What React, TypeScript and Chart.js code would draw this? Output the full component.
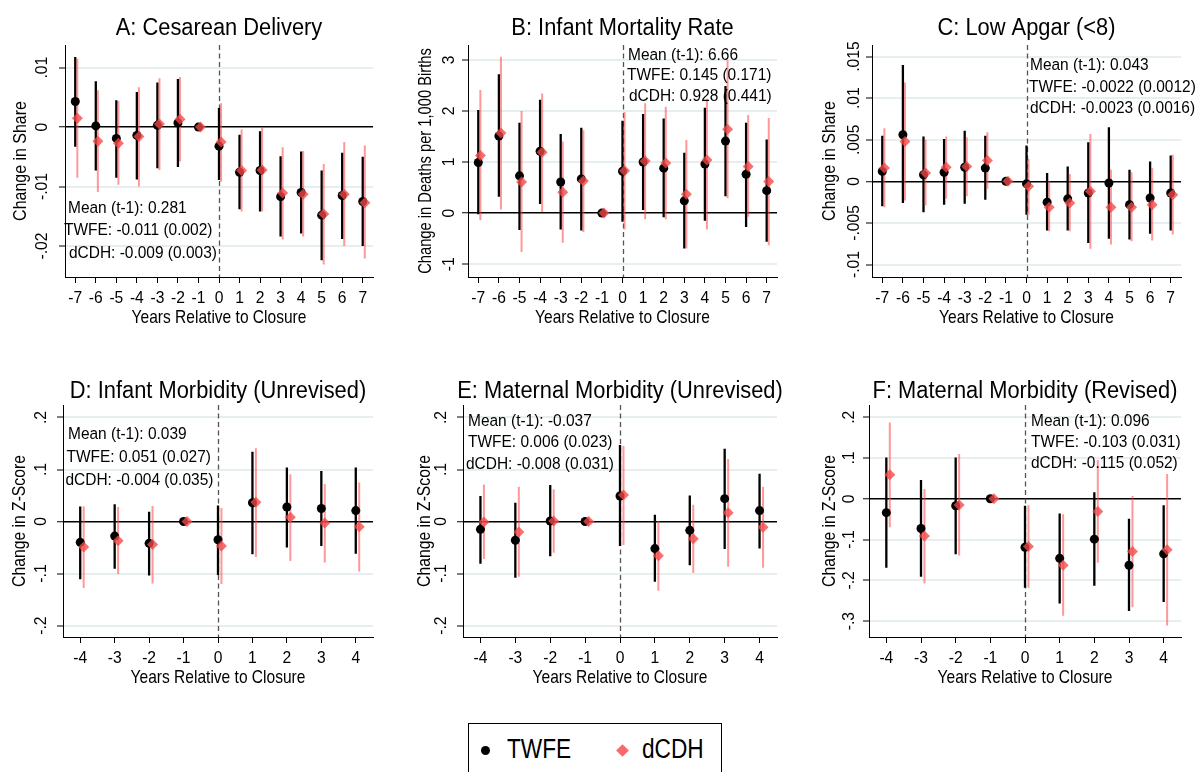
import React, { useEffect, useRef } from "react";
import { Chart, registerables } from "chart.js";

Chart.register(...registerables);

const FONT = "'Liberation Sans', Arial, Helvetica, sans-serif";

// ---------- categories ----------
const yearsLong = [-7, -6, -5, -4, -3, -2, -1, 0, 1, 2, 3, 4, 5, 6, 7];
const yearsShort = [-4, -3, -2, -1, 0, 1, 2, 3, 4];
const xAxisTitle = "Years Relative to Closure";
const legendLabels = ["TWFE", "dCDH"];

// ---------- Panel A ----------
const A_title = "A: Cesarean Delivery";
const A_yTitle = "Change in Share";
const A_yTicks = [0.01, 0, -0.01, -0.02];
const A_yTickLabels = [".01", "0", "-.01", "-.02"];
const A_twfe = [0.0043, 0.0002, -0.0019, -0.0014, 0.0003, 0.0007, 0, -0.0032, -0.0076, -0.0073, -0.0117, -0.011, -0.0148, -0.0115, -0.0125];
const A_twfeLo = [-0.0033, -0.0073, -0.0085, -0.0088, -0.0069, -0.0067, null, -0.0089, -0.0138, -0.0142, -0.0184, -0.0179, -0.0224, -0.0188, -0.02];
const A_twfeHi = [0.0118, 0.0077, 0.0045, 0.0059, 0.0075, 0.0081, null, 0.0032, -0.0013, -0.0007, -0.0049, -0.0041, -0.0073, -0.0043, -0.005];
const A_dcdh = [0.0015, -0.0024, -0.0027, -0.0016, 0.0005, 0.0013, 0, -0.0025, -0.0073, -0.0072, -0.0111, -0.0113, -0.0146, -0.0113, -0.0127];
const A_dcdhLo = [-0.0085, -0.0109, -0.0097, -0.01, -0.0072, -0.0058, null, -0.0092, -0.0142, -0.0142, -0.0189, -0.0184, -0.0231, -0.02, -0.0221];
const A_dcdhHi = [0.0115, 0.0062, 0.0044, 0.0067, 0.0082, 0.0084, null, 0.004, -0.0004, 0.0, -0.0034, -0.004, -0.0062, -0.0025, -0.0031];
const A_notes = ["Mean (t-1): 0.281", "TWFE: -0.011 (0.002)", "dCDH: -0.009 (0.003)"];

// ---------- Panel B ----------
const B_title = "B: Infant Mortality Rate";
const B_yTitle = "Change in Deaths per 1,000 Births";
const B_yTicks = [3, 2, 1, 0, -1];
const B_yTickLabels = ["3", "2", "1", "0", "-1"];
const B_twfe = [0.99, 1.51, 0.73, 1.21, 0.61, 0.67, 0, 0.82, 1.0, 0.88, 0.24, 0.96, 1.41, 0.76, 0.44];
const B_twfeLo = [-0.02, 0.32, -0.33, 0.18, -0.32, -0.34, null, -0.17, 0.06, -0.08, -0.69, -0.15, 0.33, -0.27, -0.56];
const B_twfeHi = [2.02, 2.72, 1.77, 2.22, 1.55, 1.67, null, 1.81, 1.94, 1.85, 1.18, 2.06, 2.49, 1.77, 1.44];
const B_dcdh = [1.13, 1.57, 0.61, 1.19, 0.41, 0.63, 0, 0.83, 1.02, 0.98, 0.37, 1.04, 1.64, 0.91, 0.62];
const B_dcdhLo = [-0.14, 0.07, -0.76, 0.02, -0.58, -0.37, null, -0.32, -0.12, -0.12, -0.69, -0.32, 0.29, -0.07, -0.63];
const B_dcdhHi = [2.41, 3.06, 2.0, 2.34, 1.4, 1.62, null, 1.98, 2.15, 2.08, 1.43, 2.24, 2.99, 1.92, 1.86];
const B_notes = ["Mean (t-1): 6.66", "TWFE: 0.145 (0.171)", "dCDH: 0.928 (0.441)"];

// ---------- Panel C ----------
const C_title = "C: Low Apgar (<8)";
const C_yTitle = "Change in Share";
const C_yTicks = [0.015, 0.01, 0.005, 0, -0.005, -0.01];
const C_yTickLabels = [".015", ".01", ".005", "0", "-.005", "-.01"];
const C_twfe = [0.0012, 0.0056, 0.0008, 0.0011, 0.0017, 0.0016, 0, -0.0003, -0.0025, -0.0021, -0.0014, -0.0002, -0.0028, -0.002, -0.0014];
const C_twfeLo = [-0.003, -0.0026, -0.0037, -0.0028, -0.0027, -0.0022, null, -0.004, -0.0059, -0.0059, -0.0074, -0.0069, -0.007, -0.0063, -0.0059];
const C_twfeHi = [0.0055, 0.014, 0.0054, 0.0051, 0.0061, 0.0055, null, 0.0043, 0.001, 0.0018, 0.0047, 0.0065, 0.0014, 0.0024, 0.0031];
const C_dcdh = [0.0016, 0.0048, 0.001, 0.0017, 0.0018, 0.0025, 0, -0.0006, -0.0031, -0.0026, -0.0012, -0.0031, -0.0031, -0.0028, -0.0016];
const C_dcdhLo = [-0.0031, -0.0023, -0.0029, -0.0021, -0.0018, -0.0009, null, -0.004, -0.006, -0.006, -0.0081, -0.0076, -0.0072, -0.0071, -0.0064];
const C_dcdhHi = [0.0064, 0.0119, 0.005, 0.0054, 0.0053, 0.0059, null, 0.0027, 0.0, 0.0009, 0.0057, 0.0014, 0.0011, 0.0016, 0.0032];
const C_notes = ["Mean (t-1): 0.043", "TWFE: -0.0022 (0.0012)", "dCDH: -0.0023 (0.0016)"];

// ---------- Panel D ----------
const D_title = "D: Infant Morbidity (Unrevised)";
const D_yTitle = "Change in Z-Score";
const D_yTicks = [0.2, 0.1, 0, -0.1, -0.2];
const D_yTickLabels = [".2", ".1", "0", "-.1", "-.2"];
const D_twfe = [-0.04, -0.028, -0.042, 0, -0.035, 0.036, 0.028, 0.025, 0.021];
const D_twfeLo = [-0.111, -0.091, -0.104, null, -0.103, -0.063, -0.05, -0.047, -0.062];
const D_twfeHi = [0.029, 0.033, 0.019, null, 0.031, 0.134, 0.104, 0.097, 0.104];
const D_dcdh = [-0.049, -0.037, -0.044, 0, -0.047, 0.037, 0.008, -0.003, -0.01];
const D_dcdhLo = [-0.128, -0.101, -0.119, null, -0.12, -0.068, -0.076, -0.079, -0.096];
const D_dcdhHi = [0.029, 0.028, 0.03, null, 0.026, 0.141, 0.091, 0.072, 0.075];
const D_notes = ["Mean (t-1): 0.039", "TWFE: 0.051 (0.027)", "dCDH: -0.004 (0.035)"];

// ---------- Panel E ----------
const E_title = "E: Maternal Morbidity (Unrevised)";
const E_yTitle = "Change in Z-Score";
const E_yTicks = [0.2, 0.1, 0, -0.1, -0.2];
const E_yTickLabels = [".2", ".1", "0", "-.1", "-.2"];
const E_twfe = [-0.015, -0.036, 0.001, 0, 0.049, -0.052, -0.017, 0.044, 0.021];
const E_twfeLo = [-0.081, -0.108, -0.067, null, -0.047, -0.116, -0.084, -0.053, -0.052];
const E_twfeHi = [0.049, 0.036, 0.07, null, 0.147, 0.013, 0.05, 0.14, 0.092];
const E_dcdh = [-0.001, -0.02, 0.001, 0, 0.051, -0.066, -0.033, 0.017, -0.011];
const E_dcdhLo = [-0.072, -0.106, -0.06, null, -0.045, -0.133, -0.099, -0.087, -0.089];
const E_dcdhHi = [0.071, 0.067, 0.062, null, 0.145, 0.001, 0.032, 0.12, 0.067];
const E_notes = ["Mean (t-1): -0.037", "TWFE: 0.006 (0.023)", "dCDH: -0.008 (0.031)"];

// ---------- Panel F ----------
const F_title = "F: Maternal Morbidity (Revised)";
const F_yTitle = "Change in Z-Score";
const F_yTicks = [0.2, 0.1, 0, -0.1, -0.2, -0.3];
const F_yTickLabels = [".2", ".1", "0", "-.1", "-.2", "-.3"];
const F_twfe = [-0.034, -0.073, -0.017, 0, -0.119, -0.146, -0.099, -0.163, -0.135];
const F_twfeLo = [-0.169, -0.191, -0.136, null, -0.218, -0.257, -0.213, -0.275, -0.253];
const F_twfeHi = [0.101, 0.046, 0.101, null, -0.017, -0.036, 0.016, -0.049, -0.016];
const F_dcdh = [0.059, -0.091, -0.015, 0, -0.117, -0.163, -0.031, -0.129, -0.125];
const F_dcdhLo = [-0.07, -0.208, -0.139, null, -0.218, -0.287, -0.157, -0.266, -0.311];
const F_dcdhHi = [0.187, 0.024, 0.11, null, -0.016, -0.038, 0.095, 0.007, 0.061];
const F_notes = ["Mean (t-1): 0.096", "TWFE: -0.103 (0.031)", "dCDH: -0.115 (0.052)"];

type Area = { left: number; top: number; right: number; bottom: number };
type PanelCfg = {
  title: string;
  yTitle: string;
  years: number[];
  xMax: number;
  yMin: number;
  yMax: number;
  yTicks: number[];
  yTickLabels: string[];
  twfe: number[];
  twfeLo: (number | null)[];
  twfeHi: (number | null)[];
  dcdh: number[];
  dcdhLo: (number | null)[];
  dcdhHi: (number | null)[];
  notes: string[];
  area: Area;
  noteDx: number[];
  noteDy: number[];
  titleGap: number;
  yLabelOff: number;
  yTitleOff: number;
  yTitleSize: number;
};

const panels: PanelCfg[] = [
  {
    title: A_title, yTitle: A_yTitle, years: yearsLong, xMax: 7.5, yMin: -0.0252, yMax: 0.0138,
    yTicks: A_yTicks, yTickLabels: A_yTickLabels,
    twfe: A_twfe, twfeLo: A_twfeLo, twfeHi: A_twfeHi, dcdh: A_dcdh, dcdhLo: A_dcdhLo, dcdhHi: A_dcdhHi,
    notes: A_notes, area: { left: 65, top: 45, right: 373, bottom: 277 },
    noteDx: [3, -1, 4], noteDy: [161, 183, 206], titleGap: 10, yLabelOff: 24, yTitleOff: 46, yTitleSize: 19,
  },
  {
    title: B_title, yTitle: B_yTitle, years: yearsLong, xMax: 7.5, yMin: -1.25, yMax: 3.29,
    yTicks: B_yTicks, yTickLabels: B_yTickLabels,
    twfe: B_twfe, twfeLo: B_twfeLo, twfeHi: B_twfeHi, dcdh: B_dcdh, dcdhLo: B_dcdhLo, dcdhHi: B_dcdhHi,
    notes: B_notes, area: { left: 468, top: 45, right: 777, bottom: 277 },
    noteDx: [160, 159, 161], noteDy: [8, 28, 48.5], titleGap: 10, yLabelOff: 20, yTitleOff: 43, yTitleSize: 17.5,
  },
  {
    title: C_title, yTitle: C_yTitle, years: yearsLong, xMax: 7.5, yMin: -0.0115, yMax: 0.0164,
    yTicks: C_yTicks, yTickLabels: C_yTickLabels,
    twfe: C_twfe, twfeLo: C_twfeLo, twfeHi: C_twfeHi, dcdh: C_dcdh, dcdhLo: C_dcdhLo, dcdhHi: C_dcdhHi,
    notes: C_notes, area: { left: 872, top: 45, right: 1181, bottom: 277 },
    noteDx: [158, 157, 158], noteDy: [18, 40, 61], titleGap: 10, yLabelOff: 19, yTitleOff: 44, yTitleSize: 19,
  },
  {
    title: D_title, yTitle: D_yTitle, years: yearsShort, xMax: 4.5, yMin: -0.222, yMax: 0.224,
    yTicks: D_yTicks, yTickLabels: D_yTickLabels,
    twfe: D_twfe, twfeLo: D_twfeLo, twfeHi: D_twfeHi, dcdh: D_dcdh, dcdhLo: D_dcdhLo, dcdhHi: D_dcdhHi,
    notes: D_notes, area: { left: 63, top: 405, right: 373, bottom: 637 },
    noteDx: [5, 3.5, 2.5], noteDy: [27, 50, 73], titleGap: 7, yLabelOff: 23, yTitleOff: 45, yTitleSize: 18.7,
  },
  {
    title: E_title, yTitle: E_yTitle, years: yearsShort, xMax: 4.5, yMin: -0.222, yMax: 0.224,
    yTicks: E_yTicks, yTickLabels: E_yTickLabels,
    twfe: E_twfe, twfeLo: E_twfeLo, twfeHi: E_twfeHi, dcdh: E_dcdh, dcdhLo: E_dcdhLo, dcdhHi: E_dcdhHi,
    notes: E_notes, area: { left: 463, top: 405, right: 777, bottom: 637 },
    noteDx: [5, 5, 3], noteDy: [14, 35, 57], titleGap: 7, yLabelOff: 23, yTitleOff: 40, yTitleSize: 18.7,
  },
  {
    title: F_title, yTitle: F_yTitle, years: yearsShort, xMax: 4.5, yMin: -0.339, yMax: 0.23,
    yTicks: F_yTicks, yTickLabels: F_yTickLabels,
    twfe: F_twfe, twfeLo: F_twfeLo, twfeHi: F_twfeHi, dcdh: F_dcdh, dcdhLo: F_dcdhLo, dcdhHi: F_dcdhHi,
    notes: F_notes, area: { left: 869, top: 405, right: 1181, bottom: 637 },
    noteDx: [162, 162, 162], noteDy: [14, 35, 56], titleGap: 7, yLabelOff: 21, yTitleOff: 41, yTitleSize: 18.7,
  },
];

const DCDH_OFFSET = 0.1;
const PAD_L = 64;
const PAD_T = 45;
const PAD_R = 14;
const PAD_B = 55;

const RED_POINT = "rgba(244, 72, 72, 0.78)";
const RED_LINE = "rgba(255, 70, 70, 0.55)";

function pts(ys: number[], years: number[], off: number) {
  return years.map((x, i) => ({ x: x + off, y: ys[i] }));
}

function segs(lo: (number | null)[], hi: (number | null)[], years: number[], off: number) {
  const out: { x: number; y: number | null }[] = [];
  years.forEach((x, i) => {
    if (lo[i] == null || hi[i] == null) return;
    out.push({ x: x + off, y: lo[i] as number });
    out.push({ x: x + off, y: hi[i] as number });
    out.push({ x: x + off, y: null });
  });
  return out;
}

// draw text whose cap-height centre sits at cy (horizontal) or whose cap centre sits at cx (rotated)
function drawText(
  ctx: CanvasRenderingContext2D,
  text: string,
  x: number,
  y: number,
  size: number,
  k: number,
  align: CanvasTextAlign,
  rotated = false
) {
  ctx.save();
  ctx.font = `${size}px ${FONT}`;
  ctx.fillStyle = "#000";
  ctx.textAlign = align;
  ctx.textBaseline = "alphabetic";
  if (rotated) {
    ctx.translate(x + 0.358 * size, y);
    ctx.rotate(-Math.PI / 2);
  } else {
    ctx.translate(x, y + 0.358 * size);
  }
  ctx.scale(k, 1);
  ctx.fillText(text, 0, 0);
  ctx.restore();
}

function PanelChart({ cfg }: { cfg: PanelCfg }) {
  const ref = useRef<HTMLCanvasElement | null>(null);
  const w = cfg.area.right - cfg.area.left + PAD_L + PAD_R;
  const h = cfg.area.bottom - cfg.area.top + PAD_T + PAD_B;

  useEffect(() => {
    if (!ref.current) return;
    const textPlugin = {
      id: "panelText",
      beforeDatasetsDraw(chart: any) {
        const { ctx, chartArea } = chart;
        const xs = chart.scales.x;
        const px = Math.round(xs.getPixelForValue(0)) + 0.5;
        ctx.save();
        ctx.strokeStyle = "#555";
        ctx.lineWidth = 1.3;
        ctx.setLineDash([5, 3.5]);
        ctx.beginPath();
        ctx.moveTo(px, chartArea.top);
        ctx.lineTo(px, chartArea.bottom);
        ctx.stroke();
        ctx.restore();
      },
      afterDraw(chart: any) {
        const { ctx, chartArea } = chart;
        const ys = chart.scales.y;
        const xs = chart.scales.x;
        const cxArea = (chartArea.left + chartArea.right) / 2;
        // title
        drawText(ctx, cfg.title, cxArea, chartArea.top - cfg.titleGap - 0.358 * 23.5, 23.5, 0.93, "center");
        // x tick labels
        cfg.years.forEach((v) => {
          drawText(ctx, String(v), xs.getPixelForValue(v), chartArea.bottom + 19.5, 17, 0.92, "center");
        });
        // x title
        drawText(ctx, xAxisTitle, cxArea, chartArea.bottom + 39.5, 18.5, 0.84, "center");
        // y tick labels
        cfg.yTicks.forEach((v, i) => {
          drawText(ctx, cfg.yTickLabels[i], chartArea.left - cfg.yLabelOff, ys.getPixelForValue(v), 17, 0.92, "center", true);
        });
        // y title
        drawText(ctx, cfg.yTitle, chartArea.left - cfg.yTitleOff, (chartArea.top + chartArea.bottom) / 2, cfg.yTitleSize, 0.84, "center", true);
        // notes
        cfg.notes.forEach((t, i) => {
          drawText(ctx, t, chartArea.left + cfg.noteDx[i], chartArea.top + cfg.noteDy[i] + 1, 17.2, 0.9, "left");
        });
      },
    };

    const chart = new Chart(ref.current, {
      type: "line",
      data: {
        datasets: [
          {
            label: legendLabels[1],
            data: pts(cfg.dcdh, cfg.years, DCDH_OFFSET),
            showLine: false,
            pointStyle: "rectRot",
            pointRadius: 5.5,
            pointBackgroundColor: RED_POINT,
            pointBorderColor: RED_POINT,
            pointBorderWidth: 0,
            order: 0,
          },
          {
            label: legendLabels[0],
            data: pts(cfg.twfe, cfg.years, 0),
            showLine: false,
            pointStyle: "circle",
            pointRadius: 4.5,
            pointBackgroundColor: "#000",
            pointBorderColor: "#000",
            pointBorderWidth: 0,
            order: 1,
          },
          {
            label: "dCDH CI",
            data: segs(cfg.dcdhLo, cfg.dcdhHi, cfg.years, DCDH_OFFSET),
            borderColor: RED_LINE,
            borderWidth: 2,
            pointRadius: 0,
            spanGaps: false,
            order: 2,
          },
          {
            label: "TWFE CI",
            data: segs(cfg.twfeLo, cfg.twfeHi, cfg.years, 0),
            borderColor: "#000",
            borderWidth: 2.3,
            pointRadius: 0,
            spanGaps: false,
            order: 3,
          },
        ] as any,
      },
      options: {
        responsive: false,
        animation: false,
        devicePixelRatio: 1,
        events: [],
        layout: { padding: { left: 0, top: PAD_T, right: PAD_R, bottom: 0 } },
        scales: {
          x: {
            type: "linear",
            min: -cfg.xMax,
            max: cfg.xMax,
            afterBuildTicks: (s: any) => {
              s.ticks = cfg.years.map((v) => ({ value: v }));
            },
            afterFit: (s: any) => {
              s.height = PAD_B;
            },
            grid: { drawOnChartArea: false, drawTicks: true, tickLength: 6, tickColor: "#000", tickWidth: 1 },
            border: { display: true, color: "#000", width: 1 },
            ticks: { display: false },
            title: { display: false },
          },
          y: {
            type: "linear",
            min: cfg.yMin,
            max: cfg.yMax,
            afterBuildTicks: (s: any) => {
              s.ticks = cfg.yTicks.map((v) => ({ value: v }));
            },
            afterFit: (s: any) => {
              s.width = PAD_L;
            },
            grid: {
              color: (c: any) => (c.tick && Math.abs(c.tick.value) < 1e-12 ? "#000" : "#e7eef0"),
              lineWidth: (c: any) => (c.tick && Math.abs(c.tick.value) < 1e-12 ? 1.5 : 2),
              drawTicks: true,
              tickLength: 6,
              tickColor: "#000",
              tickWidth: 1,
            },
            border: { display: true, color: "#000", width: 1 },
            ticks: { display: false },
          },
        },
        plugins: {
          legend: { display: false },
          tooltip: { enabled: false },
          title: { display: false },
        },
      } as any,
      plugins: [textPlugin],
    });
    return () => chart.destroy();
  }, [cfg]);

  return (
    <canvas
      ref={ref}
      width={w}
      height={h}
      style={{
        position: "absolute",
        left: cfg.area.left - PAD_L,
        top: cfg.area.top - PAD_T,
        width: w,
        height: h,
      }}
    />
  );
}

function Legend() {
  const textStyle: React.CSSProperties = {
    position: "absolute",
    top: 736,
    fontFamily: FONT,
    fontSize: 27,
    lineHeight: "27px",
    color: "#000",
    transform: "scaleX(0.84)",
    transformOrigin: "left center",
    whiteSpace: "nowrap",
  };
  return (
    <>
      <div
        style={{
          position: "absolute",
          left: 468,
          top: 723,
          width: 254,
          height: 70,
          border: "1px solid #000",
          boxSizing: "border-box",
          background: "#fff",
        }}
      />
      <div
        style={{
          position: "absolute",
          left: 480.5,
          top: 745.5,
          width: 9,
          height: 9,
          borderRadius: "50%",
          background: "#000",
        }}
      />
      <div style={{ ...textStyle, left: 507 }}>{legendLabels[0]}</div>
      <div
        style={{
          position: "absolute",
          left: 617.5,
          top: 745.5,
          width: 9,
          height: 9,
          background: "rgba(244, 90, 90, 0.9)",
          transform: "rotate(45deg)",
        }}
      />
      <div style={{ ...textStyle, left: 642 }}>{legendLabels[1]}</div>
    </>
  );
}

export default function App() {
  return (
    <div
      style={{
        position: "absolute",
        left: 0,
        top: 0,
        width: 1197,
        height: 772,
        overflow: "hidden",
        background: "#fff",
      }}
    >
      {panels.map((p, i) => (
        <PanelChart key={i} cfg={p} />
      ))}
      <Legend />
    </div>
  );
}
